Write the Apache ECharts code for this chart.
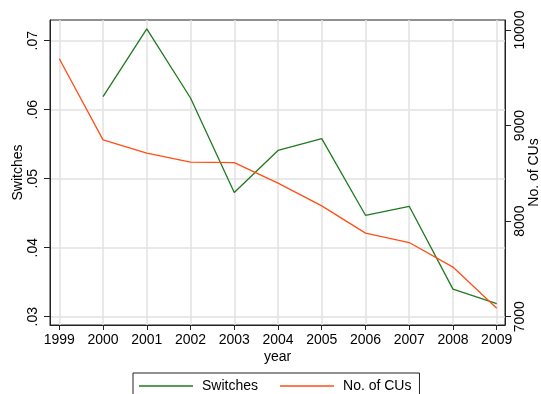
<!DOCTYPE html>
<html>
<head>
<meta charset="utf-8">
<script src="https://cdn.jsdelivr.net/npm/echarts@6/dist/echarts.min.js"></script>
<style>html,body{margin:0;padding:0;background:#fff}#c{width:541px;height:394px}</style>
</head>
<body>
<div id="c"></div>
<script>
var years = [1999, 2000, 2001, 2002, 2003, 2004, 2005, 2006, 2007, 2008, 2009];
var switches = [null, 0.0619, 0.0717, 0.0617, 0.0480, 0.0541, 0.0558, 0.0447, 0.0460, 0.0340, 0.0319];
var cus = [9700, 8850, 8711, 8617, 8613, 8397, 8160, 7874, 7776, 7519, 7088];
var leftTicks = [0.03, 0.04, 0.05, 0.06, 0.07];
var rightTicks = [7000, 8000, 9000, 10000];

var font = 'Liberation Sans, Arial, sans-serif';
var fs = 14;
var chart = echarts.init(document.getElementById('c'), null, {renderer: 'canvas'});
function pairs(vals) { return years.map(function (y, i) { return [y, vals[i]]; }); }

chart.setOption({
  backgroundColor: '#fff',
  animation: false,
  grid: {left: 50, right: 36, top: 20, bottom: 69, containLabel: false, outerBoundsMode: 'none',
    show: true, borderColor: '#222', borderWidth: 1, backgroundColor: '#fff'},
  legend: {
    left: 133, top: 373,
    padding: [6, 8, 30, 6],
    borderColor: '#222', borderWidth: 1,
    icon: 'rect', itemWidth: 54, itemHeight: 1.6, itemGap: 22,
    textStyle: {fontFamily: font, fontSize: fs, color: '#000', padding: [0, 0, 0, 4]},
    data: ['Switches', 'No. of CUs']
  },
  xAxis: {
    type: 'value', min: 1998.787, max: 2009.19,
    name: 'year', nameLocation: 'middle', nameGap: 25, nameMoveOverlap: false,
    nameTextStyle: {fontFamily: font, fontSize: fs, color: '#000'},
    axisLine: {show: true, lineStyle: {color: '#222', width: 1}},
    axisTick: {show: true, length: 5, lineStyle: {color: '#222'}, customValues: years},
    axisLabel: {fontFamily: font, fontSize: fs, color: '#000', margin: 8, customValues: years,
      formatter: function (v) { return String(Math.round(v)); }},
    splitLine: {show: true, lineStyle: {color: '#e2e2e2', width: 1.5}}
  },
  yAxis: [{
    type: 'value', position: 'left', min: 0.0288, max: 0.0730,
    name: 'Switches', nameLocation: 'middle', nameGap: 25, nameRotate: 90, nameMoveOverlap: false,
    nameTextStyle: {fontFamily: font, fontSize: fs, color: '#000'},
    axisLine: {show: true, lineStyle: {color: '#222', width: 1}},
    axisTick: {show: true, length: 6, lineStyle: {color: '#222'}, customValues: leftTicks},
    axisLabel: {fontFamily: font, fontSize: fs, color: '#000', margin: 10, rotate: 90, customValues: leftTicks,
      formatter: function (v) { return v.toFixed(2).replace(/^0/, ''); }},
    splitLine: {show: true, lineStyle: {color: '#e2e2e2', width: 1.5}}
  }, {
    type: 'value', position: 'right', min: 6913, max: 10105,
    name: 'No. of CUs', nameLocation: 'middle', nameGap: 22, nameRotate: 90, nameMoveOverlap: false,
    nameTextStyle: {fontFamily: font, fontSize: fs, color: '#000'},
    axisLine: {show: true, lineStyle: {color: '#222', width: 1}},
    axisTick: {show: true, length: 6, lineStyle: {color: '#222'}, customValues: rightTicks},
    axisLabel: {fontFamily: font, fontSize: fs, color: '#000', margin: 8, rotate: 90, customValues: rightTicks,
      formatter: function (v) { return String(Math.round(v)); }},
    splitLine: {show: false}
  }],
  series: [{
    name: 'Switches', type: 'line', yAxisIndex: 0, data: pairs(switches),
    symbol: 'none', connectNulls: false,
    lineStyle: {color: '#1f7a1f', width: 1.3}, itemStyle: {color: '#1f7a1f'}
  }, {
    name: 'No. of CUs', type: 'line', yAxisIndex: 1, data: pairs(cus),
    symbol: 'none',
    lineStyle: {color: '#ff4f14', width: 1.3}, itemStyle: {color: '#ff4f14'}
  }]
});
</script>
</body>
</html>
